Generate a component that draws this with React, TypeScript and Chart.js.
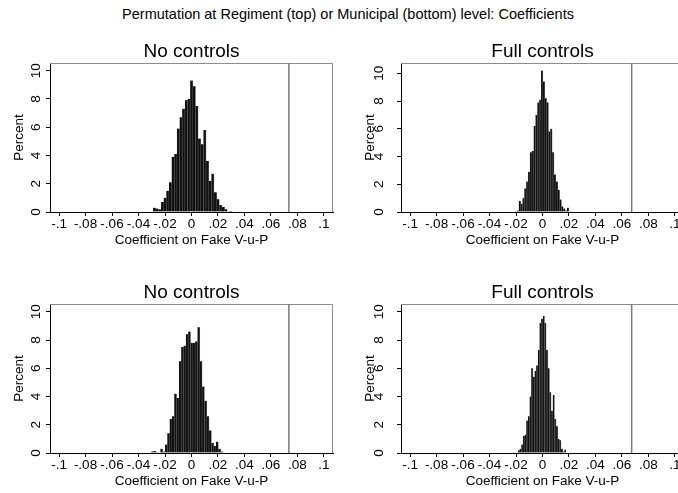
import React, { useEffect, useRef } from "react";
import { Chart, registerables } from "chart.js";

Chart.register(...registerables);

const FONT = "'Liberation Sans', Arial, Helvetica, sans-serif";
const AXIS_FONT_SIZE = 13.5;

const mainTitle = "Permutation at Regiment (top) or Municipal (bottom) level: Coefficients";
const panelTitles = ["No controls", "Full controls", "No controls", "Full controls"];
const xAxisTitle = "Coefficient on Fake V-u-P";
const yAxisTitle = "Percent";

const xTickValues = [-0.1, -0.08, -0.06, -0.04, -0.02, 0, 0.02, 0.04, 0.06, 0.08, 0.1];
const xTickLabels = ["-.1", "-.08", "-.06", "-.04", "-.02", "0", ".02", ".04", ".06", ".08", ".1"];
const yTickValues = [0, 2, 4, 6, 8, 10];
const yTickLabels = ["0", "2", "4", "6", "8", "10"];

// Top-left: Regiment level, no controls
const tlBins = [
  -0.028, -0.026, -0.024, -0.022, -0.02, -0.018, -0.016, -0.014, -0.012, -0.01,
  -0.008, -0.006, -0.004, -0.002, 0.0, 0.002, 0.004, 0.006, 0.008, 0.01,
  0.012, 0.014, 0.016, 0.018, 0.02, 0.022, 0.024, 0.026, 0.028, 0.03,
];
const tlPercent = [
  0.3, 0.25, 0.2, 0.7, 1.0, 1.5, 2.1, 3.9, 4.1, 5.9,
  6.7, 7.3, 7.9, 8.0, 9.3, 8.9, 7.5, 5.2, 4.8, 5.8,
  3.6, 2.2, 2.7, 1.4, 0.9, 0.5, 0.35, 0.2, 0.05, 0.07,
];

// Top-right: Regiment level, full controls
const trBins = [
  -0.02, -0.0186, -0.0172, -0.0158, -0.0144, -0.013, -0.0116, -0.0102, -0.0088, -0.0074,
  -0.006, -0.0046, -0.0032, -0.0018, -0.0004, 0.001, 0.0024, 0.0038, 0.0052, 0.0066,
  0.008, 0.0094, 0.0108, 0.0122, 0.0136, 0.015, 0.0164, 0.0178, 0.0192, 0.0206,
];
const trPercent = [
  0.05, 0.1, 0.8, 0.6, 1.0, 1.7, 2.2, 2.9, 4.3, 4.4,
  6.2, 7.0, 7.9, 8.1, 10.2, 9.4, 8.2, 7.9, 5.8, 6.0,
  4.3, 2.7, 2.2, 1.6, 0.9, 0.4, 0.25, 0.1, 0.3, 0.05,
];

// Bottom-left: Municipal level, no controls
const blBins = [
  -0.029625, -0.027875, -0.026125, -0.024375, -0.022625, -0.020875, -0.019125, -0.017375,
  -0.015625, -0.013875, -0.012125, -0.010375, -0.008625, -0.006875, -0.005125, -0.003375,
  -0.001625, 0.000125, 0.001875, 0.003625, 0.005375, 0.007125, 0.008875, 0.010625,
  0.012375, 0.014125, 0.015875, 0.017625, 0.019375, 0.021125, 0.022875,
];
const blPercent = [
  0.1, 0.15, 0.05, 0.0, 0.3, 0.1, 0.6, 1.4,
  2.4, 2.6, 4.2, 3.9, 6.5, 7.5, 7.6, 8.4,
  8.6, 7.8, 7.8, 7.9, 8.9, 6.5, 4.7, 3.7,
  2.6, 1.6, 0.7, 0.5, 0.8, 0.3, 0.1,
];

// Bottom-right: Municipal level, full controls
const brBins = [
  -0.021625, -0.020375, -0.019125, -0.017875, -0.016625, -0.015375, -0.014125, -0.012875,
  -0.011625, -0.010375, -0.009125, -0.007875, -0.006625, -0.005375, -0.004125, -0.002875,
  -0.001625, -0.000375, 0.000875, 0.002125, 0.003375, 0.004625, 0.005875, 0.007125,
  0.008375, 0.009625, 0.010875, 0.012125, 0.013375, 0.014625, 0.015875, 0.017125,
];
const brPercent = [
  0.05, 0.0, 0.0, 0.2, 0.3, 0.6, 1.2, 1.3,
  2.3, 2.6, 4.0, 6.0, 5.4, 5.8, 6.2, 7.3,
  9.2, 9.5, 9.7, 9.2, 7.3, 6.0, 4.3, 3.0,
  4.1, 2.4, 1.9, 1.0, 0.9, 0.3, 0.1, 0.25,
];

// Actual coefficient (vertical reference line) per panel
const actualCoef = [0.0735, 0.0673, 0.0735, 0.0673];

type PanelProps = {
  left: number;
  top: number;
  width: number;
  height: number;
  bins: number[];
  values: number[];
  title: string;
  refLine: number;
  yMax: number;
  yScaleWidth: number;
  yTickPad: number;
  yTitlePad: number;
  padRight: number;
};

function Panel(p: PanelProps) {
  const ref = useRef<HTMLCanvasElement | null>(null);
  useEffect(() => {
    if (!ref.current) return;
    const decor = {
      id: "panelDecor",
      afterDatasetsDraw(chart: any) {
        const { ctx, chartArea: a, scales } = chart;
        ctx.save();
        // frame (top and right)
        ctx.strokeStyle = "#8c8c8c";
        ctx.lineWidth = 1;
        ctx.beginPath();
        ctx.moveTo(a.left, Math.round(a.top) + 0.5);
        ctx.lineTo(Math.round(a.right) - 0.5, Math.round(a.top) + 0.5);
        ctx.lineTo(Math.round(a.right) - 0.5, a.bottom);
        ctx.stroke();
        // reference line
        const px = scales.x.getPixelForValue(p.refLine);
        ctx.strokeStyle = "#7a7a7a";
        ctx.lineWidth = 1.5;
        ctx.beginPath();
        ctx.moveTo(px, a.top);
        ctx.lineTo(px, a.bottom);
        ctx.stroke();
        // panel title
        ctx.fillStyle = "#000";
        ctx.font = `19px ${FONT}`;
        ctx.textAlign = "center";
        ctx.textBaseline = "alphabetic";
        ctx.fillText(p.title, (a.left + a.right) / 2, a.top - 6);
        ctx.restore();
      },
    };
    const chart = new Chart(ref.current, {
      type: "bar",
      data: {
        datasets: [
          {
            data: p.bins.map((b, i) => ({ x: b, y: p.values[i] })),
            backgroundColor: "#111111",
            borderColor: "#6a6a6a",
            borderWidth: { top: 0, right: 0.6, bottom: 0, left: 0 },
            borderSkipped: "start",
            barPercentage: 1,
            categoryPercentage: 1,
          },
        ],
      },
      options: {
        animation: false,
        responsive: false,
        maintainAspectRatio: false,
        devicePixelRatio: 1,
        layout: { padding: { top: 23, right: p.padRight, left: 0, bottom: 0 } },
        plugins: { legend: { display: false }, tooltip: { enabled: false }, title: { display: false } },
        scales: {
          x: {
            type: "linear",
            min: -0.1068,
            max: 0.1068,
            offset: false,
            afterBuildTicks: (s: any) => {
              s.ticks = xTickValues.map((v) => ({ value: v }));
            },
            afterFit: (s: any) => {
              s.height = 38;
            },
            ticks: {
              autoSkip: false,
              minRotation: 0,
              maxRotation: 0,
              padding: 0,
              color: "#000",
              font: { family: FONT, size: AXIS_FONT_SIZE },
              callback: (_v: any, i: number) => xTickLabels[i],
            },
            grid: {
              display: true,
              drawOnChartArea: false,
              drawTicks: true,
              tickLength: 4,
              color: "#000",
              offset: false,
            },
            border: { display: true, color: "#000", width: 1 },
            title: {
              display: true,
              text: xAxisTitle,
              color: "#000",
              font: { family: FONT, size: AXIS_FONT_SIZE },
              padding: { top: 0, bottom: 2 },
            },
          },
          y: {
            type: "linear",
            min: 0,
            max: p.yMax,
            afterBuildTicks: (s: any) => {
              s.ticks = yTickValues.map((v) => ({ value: v }));
            },
            afterFit: (s: any) => {
              s.width = p.yScaleWidth;
            },
            ticks: {
              autoSkip: false,
              minRotation: 90,
              maxRotation: 90,
              crossAlign: "center",
              padding: p.yTickPad,
              color: "#000",
              font: { family: FONT, size: AXIS_FONT_SIZE },
              callback: (_v: any, i: number) => yTickLabels[i],
            },
            grid: {
              display: true,
              drawOnChartArea: false,
              drawTicks: true,
              tickLength: 4,
              color: "#000",
            },
            border: { display: true, color: "#000", width: 1 },
            title: {
              display: true,
              text: yAxisTitle,
              color: "#000",
              font: { family: FONT, size: AXIS_FONT_SIZE },
              padding: { top: p.yTitlePad, bottom: 0 },
            },
          },
        },
      },
      plugins: [decor],
    } as any);
    return () => chart.destroy();
  }, []);
  return (
    <canvas
      ref={ref}
      width={p.width}
      height={p.height}
      style={{ position: "absolute", left: p.left, top: p.top, width: p.width, height: p.height }}
    />
  );
}

export default function App() {
  return (
    <div
      style={{
        position: "fixed",
        left: 0,
        top: 0,
        width: 678,
        height: 493,
        background: "#fff",
        overflow: "hidden",
      }}
    >
      <div
        style={{
          position: "absolute",
          left: 48,
          top: 6,
          width: 600,
          textAlign: "center",
          fontFamily: FONT,
          fontSize: 14.5,
          lineHeight: "17px",
          color: "#000",
          whiteSpace: "nowrap",
        }}
      >
        {mainTitle}
      </div>
      <Panel left={0} top={40} width={340} height={210} bins={tlBins} values={tlPercent} title={panelTitles[0]}
        refLine={actualCoef[0]} yMax={10.54} yScaleWidth={50} yTickPad={2.5} yTitlePad={10.9} padRight={7} />
      <Panel left={340} top={40} width={350} height={210} bins={trBins} values={trPercent} title={panelTitles[1]}
        refLine={actualCoef[1]} yMax={10.74} yScaleWidth={61} yTickPad={10.5} yTitlePad={21.9} padRight={6} />
      <Panel left={0} top={281} width={340} height={210} bins={blBins} values={blPercent} title={panelTitles[2]}
        refLine={actualCoef[2]} yMax={10.55} yScaleWidth={50} yTickPad={2.5} yTitlePad={10.9} padRight={7} />
      <Panel left={340} top={281} width={350} height={210} bins={brBins} values={brPercent} title={panelTitles[3]}
        refLine={actualCoef[3]} yMax={10.55} yScaleWidth={61} yTickPad={10.5} yTitlePad={21.9} padRight={6} />
    </div>
  );
}
